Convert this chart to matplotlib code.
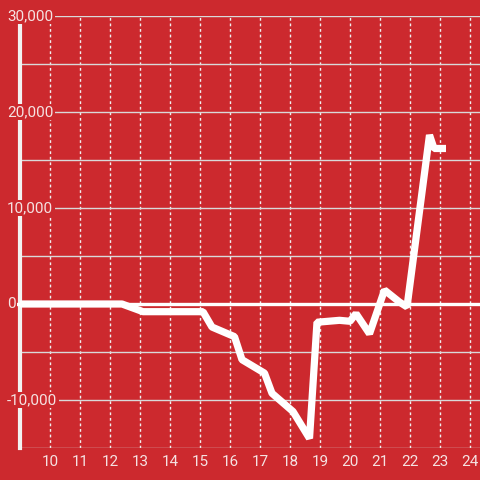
import matplotlib
matplotlib.use('Agg')
import matplotlib.pyplot as plt
import matplotlib.transforms as mtransforms
from matplotlib.ticker import MultipleLocator

# data
x_vals = [9.0, 12.4, 13.1, 15.1, 15.4, 16.15, 16.4, 17.15, 17.4, 18.1, 18.65,
          18.9, 19.65, 20.0, 20.2, 20.65, 21.15, 21.65, 21.9, 22.65, 22.8, 23.2]
y_vals = [0, 0, -800, -800, -2400, -3400, -5800, -7200, -9300, -11200, -14000,
          -1900, -1700, -1800, -1000, -3100, 1450, 200, -300, 17600, 16200, 16200]
x_ticks = list(range(10, 25))
y_ticks = [-10000, 0, 10000, 20000, 30000]

bg = '#cc292e'
txt = '#f5e2e2'

fig = plt.figure(figsize=(4.8, 4.8), dpi=100)
fig.patch.set_facecolor(bg)
ax = fig.add_axes([20 / 480, 32 / 480, 460 / 480, 432 / 480])
ax.set_facecolor(bg)

ax.set_xlim(9, 9 + 460 / 30)
ax.set_ylim(-15000, 30000)

# grid
ax.set_yticks(y_ticks)
ax.yaxis.set_minor_locator(MultipleLocator(5000))
ax.set_xticks(x_ticks)
ax.grid(True, axis='y', which='both', color='#d9d9d9', linewidth=1, linestyle='-')
ax.grid(True, axis='x', which='major', color='#f0f0f0', linewidth=1, linestyle=(0, (2, 2)))

ax.axhline(0, xmin=-0.007, color='white', linewidth=2.4, zorder=2.6, clip_on=False)

ax.plot(x_vals, y_vals, color='white', linewidth=5.2, solid_joinstyle='bevel',
        solid_capstyle='butt', zorder=3)

# spines
for s in ['top', 'right', 'bottom']:
    ax.spines[s].set_visible(False)
ax.spines['left'].set_color('#f2f2f2')
ax.spines['left'].set_linewidth(3)

ax.tick_params(axis='both', which='both', length=0, colors=txt, labelsize=11,
               labelfontfamily='Roboto')
ax.tick_params(axis='y', labelleft=False)
ax.tick_params(axis='x', pad=5)

# y labels sit over the axis line with a background box
trans = mtransforms.blended_transform_factory(fig.transFigure, ax.transData)
for v in y_ticks:
    ax.text(7 / 480, v, f'{v:,}', transform=trans, ha='left', va='center',
            color=txt, fontsize=11, family='Roboto', zorder=6, clip_on=False,
            bbox=dict(facecolor=bg, edgecolor='none', pad=1.0))

fig.savefig('out.png', dpi=100, facecolor=bg)
